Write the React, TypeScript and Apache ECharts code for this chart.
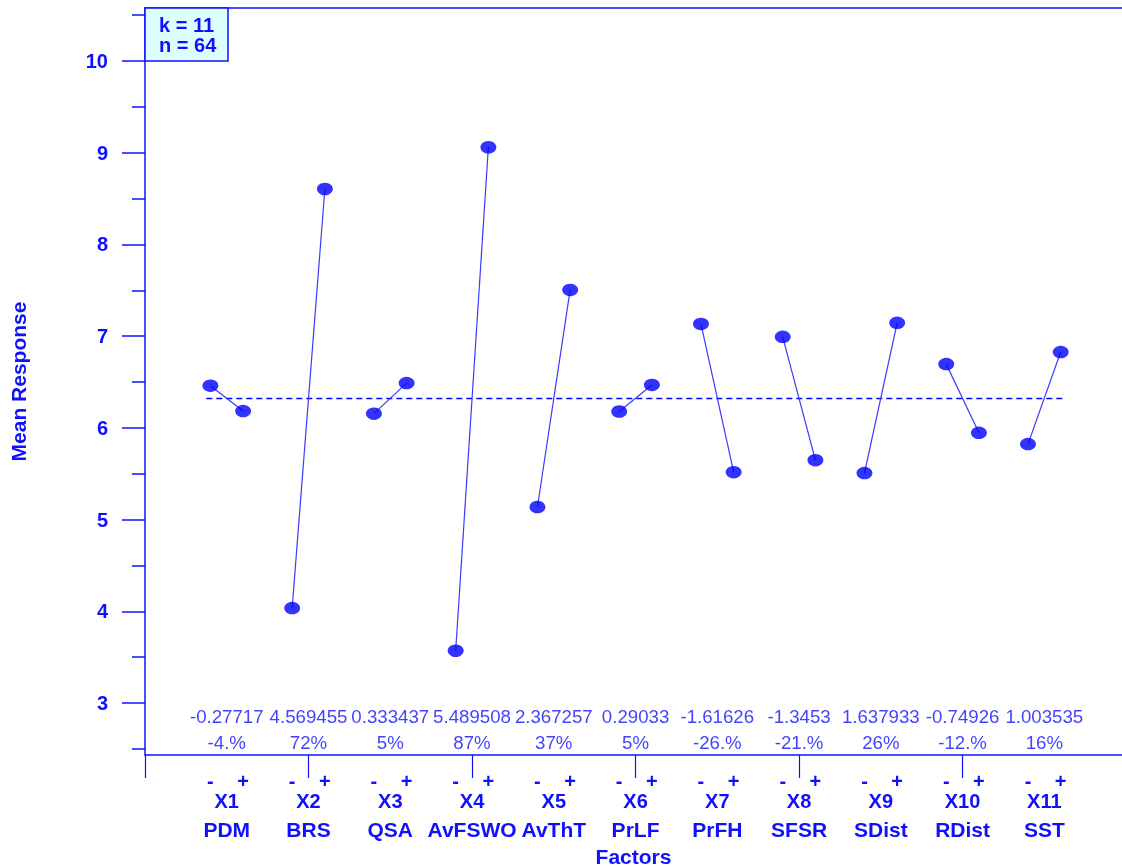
import React, { useEffect, useRef } from 'react';
import * as echarts from 'echarts';

// Main-effects plot: mean response at the low (-) and high (+) level of each factor
const FACTOR_IDS = ['X1', 'X2', 'X3', 'X4', 'X5', 'X6', 'X7', 'X8', 'X9', 'X10', 'X11'];
const FACTOR_NAMES = ['PDM', 'BRS', 'QSA', 'AvFSWO', 'AvThT', 'PrLF', 'PrFH', 'SFSR', 'SDist', 'RDist', 'SST'];
const LOW_MEANS = [6.46, 4.035, 6.155, 3.57, 5.137, 6.178, 7.133, 6.993, 5.507, 6.695, 5.823];
const HIGH_MEANS = [6.1828, 8.6045, 6.4884, 9.0595, 7.5043, 6.4683, 5.5167, 5.6477, 7.1449, 5.9457, 6.8265];
const EFFECTS = ['-0.27717', '4.569455', '0.333437', '5.489508', '2.367257', '0.29033', '-1.61626', '-1.3453', '1.637933', '-0.74926', '1.003535'];
const PERCENTS = ['-4.%', '72%', '5%', '87%', '37%', '5%', '-26.%', '-21.%', '26%', '-12.%', '16%'];
const GRAND_MEAN = 6.32;
const Y_TICKS = [3, 4, 5, 6, 7, 8, 9, 10];
const Y_MINOR_TICKS = [2.5, 3.5, 4.5, 5.5, 6.5, 7.5, 8.5, 9.5, 10.5];
const X_TICKS = [0, 2, 4, 6, 8, 10];
const K_FACTORS = 11;
const N_RUNS = 64;

const BLUE = '#0000ff';
const INK = '#1010ff';
const FONT = '"Liberation Sans", Arial, sans-serif';
const LEVEL_OFFSET = 0.2;
const X_MIN = 0;
const X_MAX = 11.95;
const Y_MIN = 2.433;
const Y_MAX = 10.578;
const TEXT_ROW_Y = 2.711;

const positions = FACTOR_IDS.map((_, i) => i + 1);
const signPositions = positions.flatMap((p) => [p - LEVEL_OFFSET, p + LEVEL_OFFSET]);

function labelAxis(values: number[], formatter: (v: number) => string, margin: number, fontSize: number, extra: any = {}) {
  return {
    type: 'value',
    position: 'bottom',
    gridIndex: 0,
    min: X_MIN,
    max: X_MAX,
    axisLine: { show: false },
    axisTick: { show: false },
    splitLine: { show: false },
    axisLabel: {
      show: true,
      customValues: values,
      formatter,
      margin,
      color: INK,
      fontFamily: FONT,
      fontWeight: 'bold',
      fontSize,
      hideOverlap: false,
      showMinLabel: true,
      showMaxLabel: true,
    },
    ...extra,
  };
}

export default function App() {
  const ref = useRef<HTMLDivElement>(null);

  useEffect(() => {
    if (!ref.current) return;
    const chart = echarts.init(ref.current, undefined, { renderer: 'svg' });

    const factorLines = positions.map((p, i) => ({
      type: 'line',
      name: FACTOR_IDS[i],
      data: [
        [p - LEVEL_OFFSET, LOW_MEANS[i]],
        [p + LEVEL_OFFSET, HIGH_MEANS[i]],
      ],
      symbol: 'none',
      lineStyle: { color: '#3a3aff', width: 1.2 },
      z: 3,
      silent: true,
    }));

    const points = positions.flatMap((p, i) => [
      [p - LEVEL_OFFSET, LOW_MEANS[i]],
      [p + LEVEL_OFFSET, HIGH_MEANS[i]],
    ]);

    const option: any = {
      animation: false,
      grid: { left: 145, top: 8, right: 0, bottom: 112, containLabel: false, outerBoundsMode: 'none' },
      xAxis: [
        {
          type: 'value',
          position: 'bottom',
          min: X_MIN,
          max: X_MAX,
          axisLine: { show: true, onZero: false, lineStyle: { color: INK, width: 1.5 } },
          axisTick: { show: true, customValues: X_TICKS, length: 23, lineStyle: { color: INK, width: 1.2 } },
          axisLabel: { show: false },
          splitLine: { show: false },
        },
        labelAxis(signPositions, (v) => (v < Math.round(v) ? '-' : '+'), 16, 20),
        labelAxis(positions, (v) => FACTOR_IDS[Math.round(v) - 1], 36, 20),
        labelAxis(positions, (v) => FACTOR_NAMES[Math.round(v) - 1], 64, 21, {
          name: 'Factors',
          nameLocation: 'middle',
          nameGap: 91,
          nameTextStyle: { color: INK, fontFamily: FONT, fontWeight: 'bold', fontSize: 21 },
        }),
        {
          type: 'value',
          position: 'top',
          min: X_MIN,
          max: X_MAX,
          axisLine: { show: true, onZero: false, lineStyle: { color: INK, width: 1.5 } },
          axisTick: { show: false },
          axisLabel: { show: false },
          splitLine: { show: false },
        },
      ],
      yAxis: [
        {
          type: 'value',
          position: 'left',
          min: Y_MIN,
          max: Y_MAX,
          axisLine: { show: true, onZero: false, lineStyle: { color: INK, width: 1.5 } },
          axisTick: { show: true, customValues: Y_TICKS, length: 23, lineStyle: { color: INK, width: 1.5 } },
          axisLabel: {
            show: true,
            customValues: Y_TICKS,
            margin: 37,
            color: INK,
            fontFamily: FONT,
            fontWeight: 'bold',
            fontSize: 20,
          },
          splitLine: { show: false },
          name: 'Mean Response',
          nameLocation: 'middle',
          nameRotate: 90,
          nameGap: 116,
          nameTextStyle: { color: INK, fontFamily: FONT, fontWeight: 'bold', fontSize: 21 },
        },
        {
          type: 'value',
          position: 'left',
          min: Y_MIN,
          max: Y_MAX,
          axisLine: { show: false },
          axisTick: { show: true, customValues: Y_MINOR_TICKS, length: 13, lineStyle: { color: INK, width: 1.5 } },
          axisLabel: { show: false },
          splitLine: { show: false },
        },
      ],
      series: [
        ...factorLines,
        {
          type: 'line',
          name: 'mean',
          data: [
            [0.75, GRAND_MEAN],
            [11.22, GRAND_MEAN],
          ],
          symbol: 'none',
          lineStyle: { color: BLUE, width: 1.3, type: [6, 4] },
          z: 2,
          silent: true,
        },
        {
          type: 'scatter',
          name: 'levels',
          data: points,
          symbol: 'circle',
          symbolSize: [16, 12.5],
          itemStyle: { color: BLUE },
          z: 4,
          silent: true,
        },
        {
          type: 'scatter',
          name: 'effects',
          data: positions.map((p) => [p, TEXT_ROW_Y]),
          symbolSize: 0,
          silent: true,
          label: {
            show: true,
            position: 'inside',
            formatter: (params: any) => `${EFFECTS[params.dataIndex]}\n${PERCENTS[params.dataIndex]}`,
            color: INK,
            fontFamily: FONT,
            fontSize: 18.67,
            lineHeight: 26,
          },
        },
      ],
      graphic: [
        {
          type: 'rect',
          shape: { x: 145, y: 8, width: 83, height: 53 },
          style: { fill: '#dcffff', stroke: INK, lineWidth: 1.5 },
          z: 10,
        },
        {
          type: 'text',
          x: 159,
          y: 25,
          style: {
            text: `k = ${K_FACTORS}`,
            fill: INK,
            font: `bold 20px ${FONT}`,
            verticalAlign: 'middle',
          },
          z: 11,
        },
        {
          type: 'text',
          x: 159,
          y: 45,
          style: {
            text: `n = ${N_RUNS}`,
            fill: INK,
            font: `bold 20px ${FONT}`,
            verticalAlign: 'middle',
          },
          z: 11,
        },
      ],
    };

    chart.setOption(option);
    return () => chart.dispose();
  }, []);

  return <div ref={ref} style={{ position: 'fixed', left: 0, top: 0, width: 1122, height: 867 }} />;
}
